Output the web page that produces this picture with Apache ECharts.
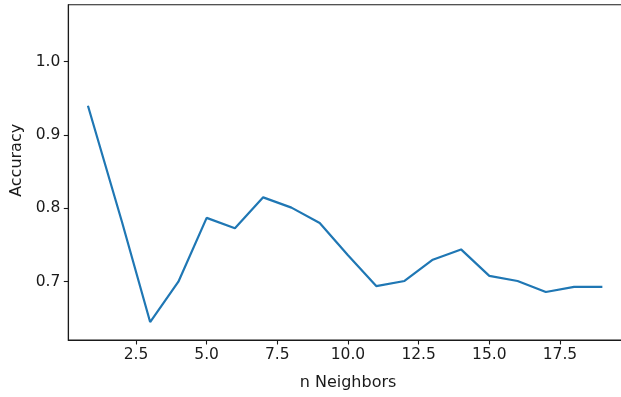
<!DOCTYPE html>
<html>
<head>
<meta charset="utf-8">
<script src="https://cdn.jsdelivr.net/npm/echarts@6/dist/echarts.min.js"></script>
<style>html,body{margin:0;padding:0;background:#fff;}#chart{width:621px;height:397px;}</style>
</head>
<body>
<div id="chart"></div>
<script>
const neighbors = [0.8, 2, 3, 4, 5, 6, 7, 8, 9, 10, 11, 12, 13, 14, 15, 16, 17, 18, 19];
const accuracy = [0.940, 0.782, 0.645, 0.700, 0.787, 0.773, 0.815, 0.801, 0.780, 0.736, 0.694, 0.701, 0.730, 0.744, 0.708, 0.701, 0.686, 0.693, 0.693];
const xTicks = [2.5, 5.0, 7.5, 10.0, 12.5, 15.0, 17.5];
const yTicks = [0.7, 0.8, 0.9, 1.0];

const font = 'DejaVu Sans';
const chart = echarts.init(document.getElementById('chart'), null, {renderer: 'canvas'});
chart.setOption({
  animation: false,
  backgroundColor: '#fff',
  grid: {left: 68.3, right: -6.8, top: 4.7, bottom: 57, containLabel: false, outerBoundsMode: 'none', show: true, borderColor: '#1a1a1a', borderWidth: 1.1, backgroundColor: 'transparent'},
  xAxis: {
    type: 'value', min: 0.105, max: 19.9,
    name: 'n Neighbors', nameLocation: 'middle', nameGap: 35,
    nameTextStyle: {fontFamily: font, fontSize: 16, color: '#1a1a1a'},
    axisLine: {show: true, onZero: false, lineStyle: {color: '#1a1a1a', width: 1.1}},
    axisTick: {show: true, length: 4.5, customValues: xTicks, lineStyle: {color: '#1a1a1a', width: 1.1}},
    axisLabel: {customValues: xTicks, margin: 7, fontFamily: font, fontSize: 15.5, color: '#1a1a1a', formatter: v => v.toFixed(1)},
    splitLine: {show: false}
  },
  yAxis: {
    type: 'value', min: 0.6205, max: 1.0777,
    name: 'Accuracy', nameLocation: 'middle', nameGap: 43, nameRotate: 90,
    nameTextStyle: {fontFamily: font, fontSize: 16, color: '#1a1a1a', padding: [0, 0, 0, 24]},
    axisLine: {show: true, onZero: false, lineStyle: {color: '#1a1a1a', width: 1.1}},
    axisTick: {show: true, length: 4.5, customValues: yTicks, lineStyle: {color: '#1a1a1a', width: 1.1}},
    axisLabel: {customValues: yTicks, margin: 8, fontFamily: font, fontSize: 15.5, color: '#1a1a1a', formatter: v => v.toFixed(1)},
    splitLine: {show: false}
  },
  series: [{
    type: 'line',
    data: neighbors.map((n, i) => [n, accuracy[i]]),
    showSymbol: false,
    symbol: 'none',
    lineStyle: {color: '#1f77b4', width: 2.2},
    clip: true
  }]
});
</script>
</body>
</html>
